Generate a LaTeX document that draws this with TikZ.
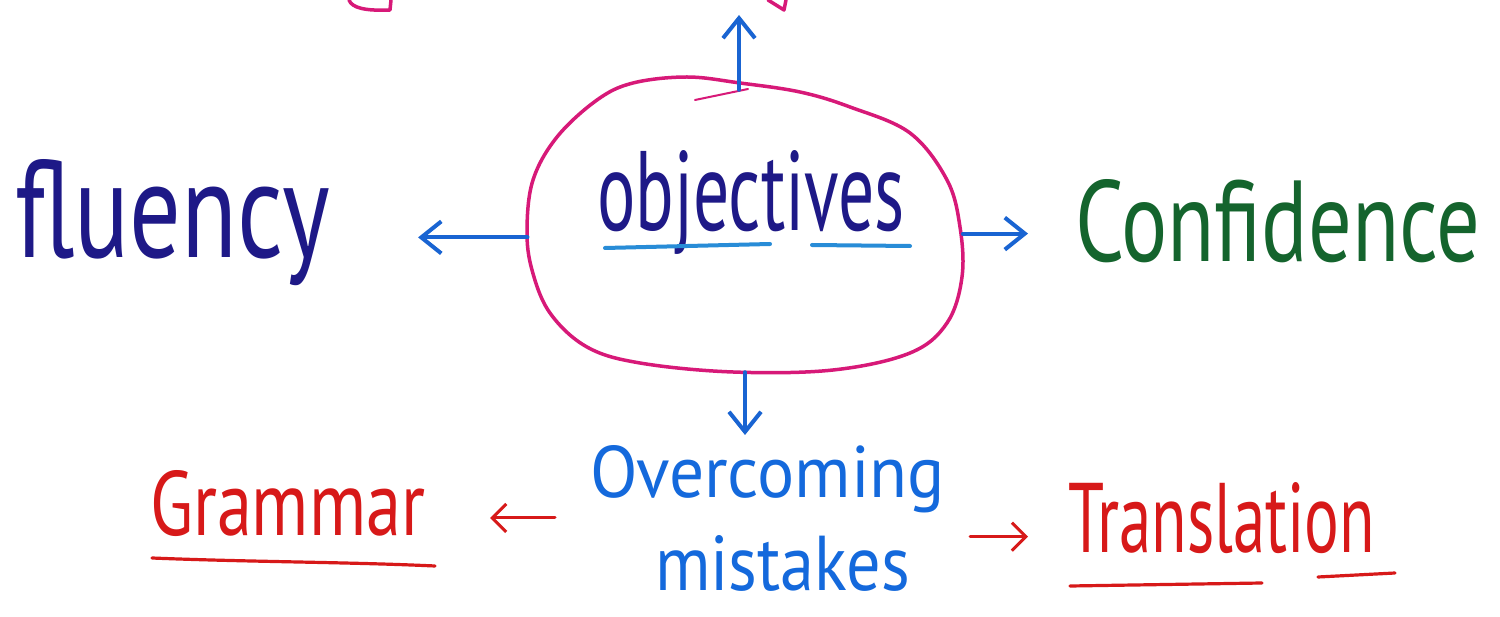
\documentclass[tikz,border=0pt]{standalone}
\usepackage{fontspec}
\setmainfont{PT Sans}
\usepackage{graphicx}
\usetikzlibrary{arrows.meta,shapes.geometric}
\definecolor{navyink}{RGB}{30,25,135}
\definecolor{greenink}{RGB}{20,100,45}
\definecolor{pinkink}{RGB}{215,25,120}
\definecolor{arrowblue}{RGB}{25,100,210}
\definecolor{blueink}{RGB}{20,105,220}
\definecolor{redink}{RGB}{215,25,25}
\definecolor{ulblue}{RGB}{40,140,215}
\newcommand{\hwbox}[3]{\resizebox{#1pt}{#2pt}{#3}}
\begin{document}
\begin{tikzpicture}[x=1pt,y=-1pt,line cap=round,line join=round,
  lbl/.style={inner sep=0pt,outer sep=0pt,anchor=base west},
  bluearrow/.style={draw=arrowblue,line width=4pt,-{Straight Barb[length=20pt,width=32pt]}},
  redarrow/.style={draw=redink,line width=3pt,-{Straight Barb[length=14pt,width=28pt]}},
  pinkline/.style={draw=pinkink,line width=3.5pt},
  redline/.style={draw=redink,line width=3.2pt},
  blueline/.style={draw=ulblue,line width=4pt}]
\useasboundingbox (0,0) rectangle (1500,617);
\fill[white] (0,0) rectangle (1500,617);

% central blob
\node[ellipse,draw=none,minimum width=436pt,minimum height=292pt,inner sep=0pt] (obj) at (745,226) {};
\draw[pinkline] plot[smooth cycle,tension=0.6] coordinates {
  (633,83) (597,100) (557,137) (533,180) (527,230) (532,270) (550,313)
  (587,347) (640,363) (733,372) (833,370) (910,353) (947,323) (962,277)
  (960,227) (947,180) (910,133) (850,107) (800,92) (740,83) (687,77)};
\draw[pinkline,line width=2pt] (695,100) -- (748,89);

% top fragments (cut off)
\draw[pinkline] (349,0) .. controls (352,8) and (365,11) .. (390,10) -- (391,0);
\draw[pinkline] (768,0) -- (784,10) -- (786,0);

% texts
\node[lbl,text=navyink] (objtext) at (597,231) {\hwbox{308}{80}{objectives}};
\draw[blueline] (605,248) -- (770,244);
\draw[blueline] (812,245) -- (910,246);

\node[lbl,text=navyink] (fluency) at (15,258) {\hwbox{315}{98}{fluency}};
\node[lbl,text=greenink] (conf) at (1075,262) {\hwbox{405}{82}{Confidence}};

\node[inner sep=0pt,outer sep=0pt,anchor=north west,align=left,text=blueink,
  font=\fontsize{10pt}{93pt}\selectfont] (over) at (590,445)
  {\hwbox{355}{52}{Overcoming}\\\hspace*{65pt}\hwbox{255}{55}{mistakes}};

\node[lbl,text=redink] (grammar) at (150,535) {\hwbox{275}{65}{Grammar}};
\draw[redline] (152,558) .. controls (250,562) and (350,562) .. (435,566);

\node[lbl,text=redink] (trans) at (1068,552) {\hwbox{307}{70}{Translation}};
\draw[redline] (1070,586) -- (1262,583);
\draw[redline] (1318,577) -- (1395,573);

% connectors
\coordinate (topend) at (739,15);
\draw[bluearrow] ([yshift=-10pt]topend |- obj.north) -- (topend);
\draw[bluearrow,shorten >=88pt] (obj.183) -- (fluency.east |- obj.183);
\draw[bluearrow,shorten >=47pt] (obj.358) -- (conf.west |- obj.358);
\draw[bluearrow,shorten >=10pt] (obj.south) -- (obj.south |- over.north);
\draw[redarrow,shorten <=35pt,shorten >=65pt] (over.west) -- (grammar.east |- over.west);
\draw[redarrow,shorten <=25pt,shorten >=40pt] (over.-6) -- (trans.west |- over.-6);
\end{tikzpicture}
\end{document}
